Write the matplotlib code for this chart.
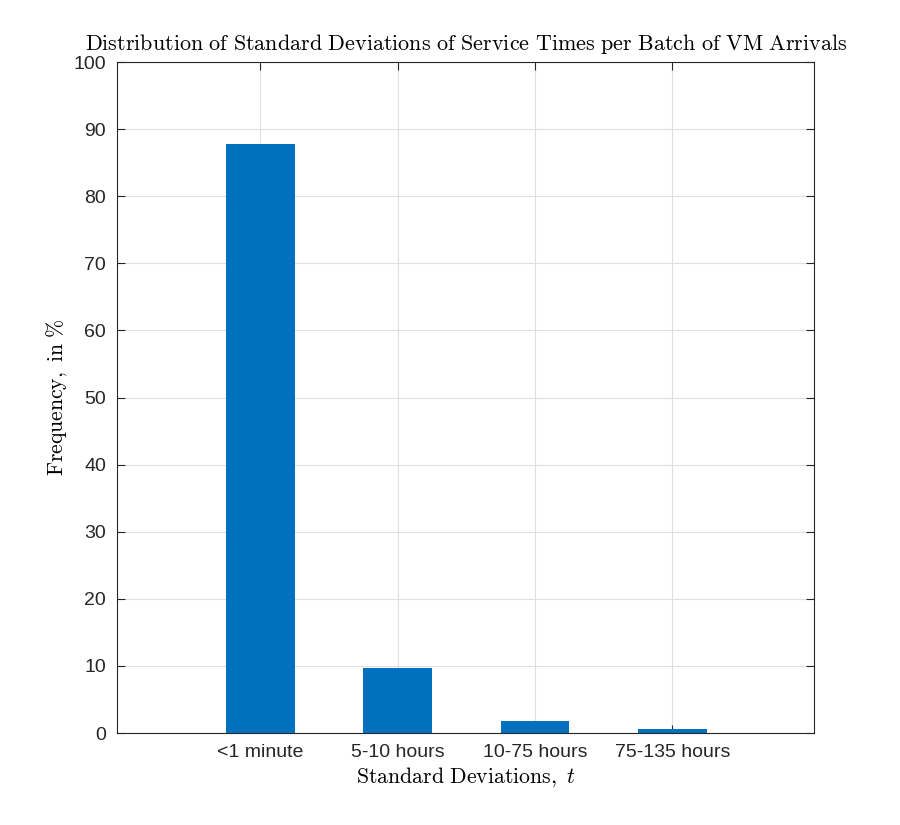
import numpy as np
import matplotlib
matplotlib.use('Agg')
import matplotlib.pyplot as plt

# data
categories = ['<1 minute', '5-10 hours', '10-75 hours', '75-135 hours']
freq_pct = [87.8, 9.7, 1.8, 0.6]

plt.rcParams['mathtext.fontset'] = 'cm'
plt.rcParams['font.family'] = ['Liberation Sans', 'DejaVu Sans']

fig = plt.figure(figsize=(9, 8.25), dpi=100)
ax = fig.add_axes([0.1303, 0.1115, 0.7745, 0.8133])

x = np.arange(1, len(categories) + 1)
ax.bar(x, freq_pct, width=0.5, color='#0072BD', zorder=3)

ax.set_xlim(-0.042, 5.035)
ax.set_ylim(0, 100)
ax.set_xticks(x)
ax.set_xticklabels(categories)
ax.set_yticks(np.arange(0, 101, 10))

ax.grid(True, color='#dfdfdf', linewidth=0.8, zorder=0)
ax.tick_params(direction='in', length=6, width=0.8, colors='#262626',
               labelsize=14, top=True, right=True, pad=8)
for s in ax.spines.values():
    s.set_color('#262626')
    s.set_linewidth(0.8)

ax.set_title(r'$\mathrm{Distribution\ of\ Standard\ Deviations\ of\ Service\ Times\ per\ Batch\ of\ VM\ Arrivals}$',
             fontsize=15.9, pad=9)
ax.set_xlabel(r'$\mathrm{Standard\ Deviations,}\ t$', fontsize=15.7, labelpad=3)
ax.set_ylabel(r'$\mathrm{Frequency,\ in\ \%}$', fontsize=15.6, labelpad=3)

fig.savefig('out.png', dpi=100)
